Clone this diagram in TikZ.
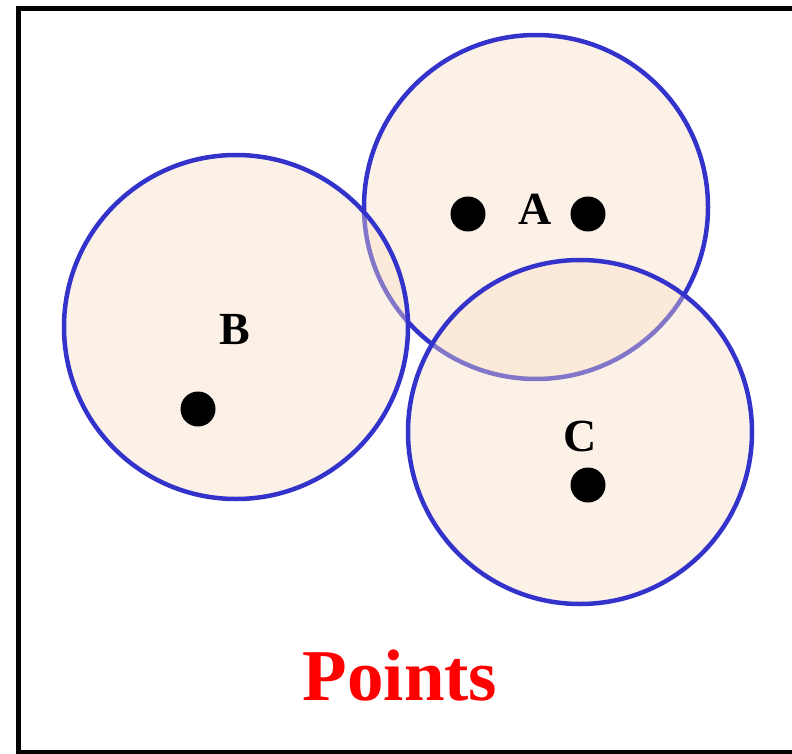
\documentclass[tikz,border=0pt]{standalone}
\usepackage{fontspec}
\setmainfont{Liberation Serif}
\usepackage{xcolor}
\usepackage{tikz}
\usetikzlibrary{positioning}
\definecolor{cRing}{HTML}{3333CC}
\definecolor{cFill}{HTML}{F8DCC4}
\definecolor{cTitle}{HTML}{FF0000}
\tikzset{
  zone/.style={circle,draw=cRing,line width=4.5pt,fill=cFill,fill opacity=0.4,draw opacity=1,inner sep=0pt,minimum size=344pt},
  pt/.style={circle,fill=black,inner sep=0pt,minimum size=35pt},
  tag/.style={font=\fontsize{46}{50}\selectfont\bfseries,inner sep=0pt,anchor=base},
  frame/.style={draw=black,line width=4.5pt}}
\begin{document}
\begin{tikzpicture}[x=1pt,y=-1pt]
\useasboundingbox (0,0) rectangle (792,754);
\draw[frame] (18.5,8.5) rectangle (800,752.5);
% circles, A first so B and C lie over it
\node[zone] (zA) at (536,207) {};
\node[zone] (zB) at (236,327) {};
\node[zone] (zC) at (580,432) {};
% labels
\node[tag] (lA) at (535,224) {A};
\node[tag] (lB) at (235,344) {B};
\node[tag] (lC) at (580,451) {C};
% points
\node[pt] (pA1) at (468,214) {};
\node[pt] (pA2) at (588,214) {};
\node[pt] (pB) at (198,409) {};
\node[pt] (pC) at (588,485) {};
\node[font=\fontsize{73}{80}\selectfont\bfseries,text=cTitle,inner sep=0pt,anchor=base] (title) at (400,700) {Points};
\end{tikzpicture}
\end{document}
